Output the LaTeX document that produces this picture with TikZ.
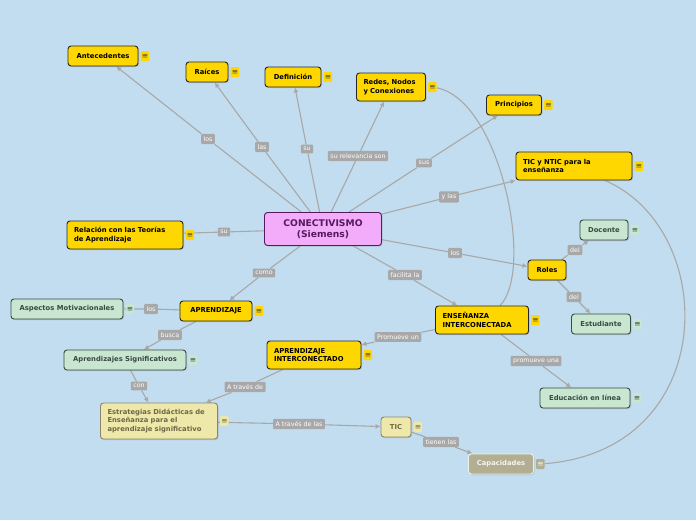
\documentclass[tikz,border=0pt]{standalone}
\usepackage{fontspec}
\newfontfamily\dv{DejaVu Sans}
\usepackage{tikz}
\usetikzlibrary{arrows.meta,shadows}
\pgfdeclarelayer{bg}
\pgfsetlayers{bg,main}
\definecolor{sky}{RGB}{194,221,240}
\definecolor{gold}{RGB}{255,215,0}
\definecolor{rose}{RGB}{242,172,250}
\definecolor{plum}{RGB}{85,25,95}
\definecolor{mint}{RGB}{200,230,208}
\definecolor{pine}{RGB}{55,75,65}
\definecolor{khaki}{RGB}{238,232,170}
\definecolor{olive}{RGB}{110,104,70}
\definecolor{sand}{RGB}{178,174,146}
\definecolor{ash}{RGB}{168,168,168}

\begin{document}
\begin{tikzpicture}[x=1pt,y=-1pt,
  box/.style = {draw, rounded corners=3pt, line width=0.9pt, inner xsep=7pt, inner ysep=2pt, minimum height=20pt,
    font=\dv\bfseries\fontsize{6.8}{8.6}\selectfont, drop shadow={shadow xshift=1pt,shadow yshift=-1pt,opacity=0.3}},
  yel/.style = {box, fill=gold, draw=black!85, text=black},
  grn/.style = {box, fill=mint, draw=pine, text=pine},
  kha/.style = {box, fill=khaki, draw=olive!80, text=olive},
  note/.style = {fill=#1, text=black!75, rounded corners=1pt, inner sep=0pt, minimum width=8.5pt, minimum height=10pt,
    font=\dv\fontsize{7.5}{7.5}\selectfont},
  tag/.style = {fill=ash, text=white, rounded corners=1pt, inner xsep=2.5pt, inner ysep=2.6pt,
    font=\dv\fontsize{6.3}{6.3}\selectfont},
  link/.style = {draw=ash, line width=1.1pt, -{Latex[length=5pt,width=5pt]}},
  label distance=2pt]
\useasboundingbox (0,0) rectangle (696,520);

% centre
\node[box, fill=rose, draw=plum, text=plum, font=\dv\bfseries\fontsize{9.2}{11}\selectfont,
  minimum width=117, minimum height=33, align=center] (conn) at (323,229) {CONECTIVISMO\\(Siemens)};

% ideas
\node[yel, minimum width=70, label={[note=gold]right:≡}] (ant) at (103,56) {Antecedentes};
\node[yel, minimum width=42, label={[note=gold]right:≡}] (rai) at (207,72) {Raíces};
\node[yel, minimum width=56, label={[note=gold]right:≡}] (def) at (293,77) {Definición};
\node[yel, minimum height=28, text width=55, align=left, label={[name=redes-n,note=gold]right:≡}] (redes) at (391,87) {Redes, Nodos\\y Conexiones};
\node[yel, minimum width=55, label={[note=gold]right:≡}] (princ) at (514,105) {Principios};
\node[yel, minimum height=28, text width=102, align=left, label={[note=gold]right:≡}] (ticn) at (574,166) {TIC y NTIC para la\\enseñanza};
\node[yel, minimum height=28, text width=102, align=left, label={[note=gold]right:≡}] (rel) at (125,235) {Relación con las Teorías\\de Aprendizaje};
\node[grn, minimum width=48, label={[note=mint,text=pine]right:≡}] (doc) at (604,230) {Docente};
\node[yel, minimum width=38] (roles) at (547,270) {Roles};
\node[grn, minimum width=59, label={[note=mint,text=pine]right:≡}] (est) at (601,324) {Estudiante};
\node[yel, minimum height=28, text width=79, align=left, label={[note=gold]right:≡}] (ens) at (482,320) {ENSEÑANZA\\INTERCONECTADA};
\node[grn, minimum width=90, label={[note=mint,text=pine]right:≡}] (edu) at (585,398) {Educación en línea};
\node[yel, minimum width=72, label={[note=gold]right:≡}] (apr) at (216,311) {APRENDIZAJE};
\node[grn, minimum width=112, label={[note=mint,text=pine]right:≡}] (asp) at (67,309) {Aspectos Motivacionales};
\node[grn, minimum width=122, label={[note=mint,text=pine]right:≡}] (sig) at (125,360) {Aprendizajes Significativos};
\node[yel, minimum height=28, text width=80, align=left, label={[note=gold]right:≡}] (aint) at (314,355) {APRENDIZAJE\\INTERCONECTADO};
\node[kha, minimum height=36, text width=103, align=left, label={[note=khaki,text=olive]right:≡}] (estr) at (159,421) {Estrategias Didácticas de\\Enseñanza para el\\aprendizaje significativo};
\node[kha, minimum width=30, label={[note=khaki,text=olive]right:≡}] (tic) at (396,427) {TIC};
\node[box, fill=sand, draw=white!80!sand, text=white!88!sand, minimum width=65,
  label={[name=cap-n,note=sand,text=white!85!sand]right:≡}] (cap) at (501,464) {Capacidades};

% link words
\foreach \n/\x/\y/\t in {l1/208/139/los, l2/262/147/las, l3/307/149/su, l4/358/156/su relevancia son,
  l5/424/163/sus, l6/449/197/y las, l7/224/232/su, l8/455/253/los, l9/264/273/como, l10/405/275/facilita la,
  l11/575/250/del, l12/574/297/del, l13/398/337/Promueve un, l14/536/361/promueve una, l15/151/309/los,
  l16/170/335/busca, l17/139/386/con, l18/245/387/A través de, l19/299/424/A través de las, l20/441/442/tienen las}
  \node[tag] (\n) at (\x,\y) {\t};

\begin{pgfonlayer}{bg}
\fill[sky] (0,0) rectangle (696,520);
\foreach \a/\l/\b in {conn/l1/ant, conn/l2/rai, conn/l3/def, conn/l4/redes, conn/l5/princ, conn/l6/ticn,
  conn/l7/rel, conn/l8/roles, conn/l9/apr, conn/l10/ens, roles/l11/doc, roles/l12/est, ens/l13/aint,
  ens/l14/edu, apr/l15/asp, apr/l16/sig, sig/l17/estr, aint/l18/estr, estr/l19/tic, tic/l20/cap}
  \draw[link] (\a) -- (\l) -- (\b);
\draw[draw=ash, line width=1.1pt] (redes-n) .. controls (500,100) and (535,270) .. ([xshift=18]ens.north);
\draw[draw=ash, line width=1.1pt] ([xshift=31]ticn.south) .. controls (720,230) and (720,450) .. (cap-n);
\end{pgfonlayer}
\end{tikzpicture}
\end{document}
